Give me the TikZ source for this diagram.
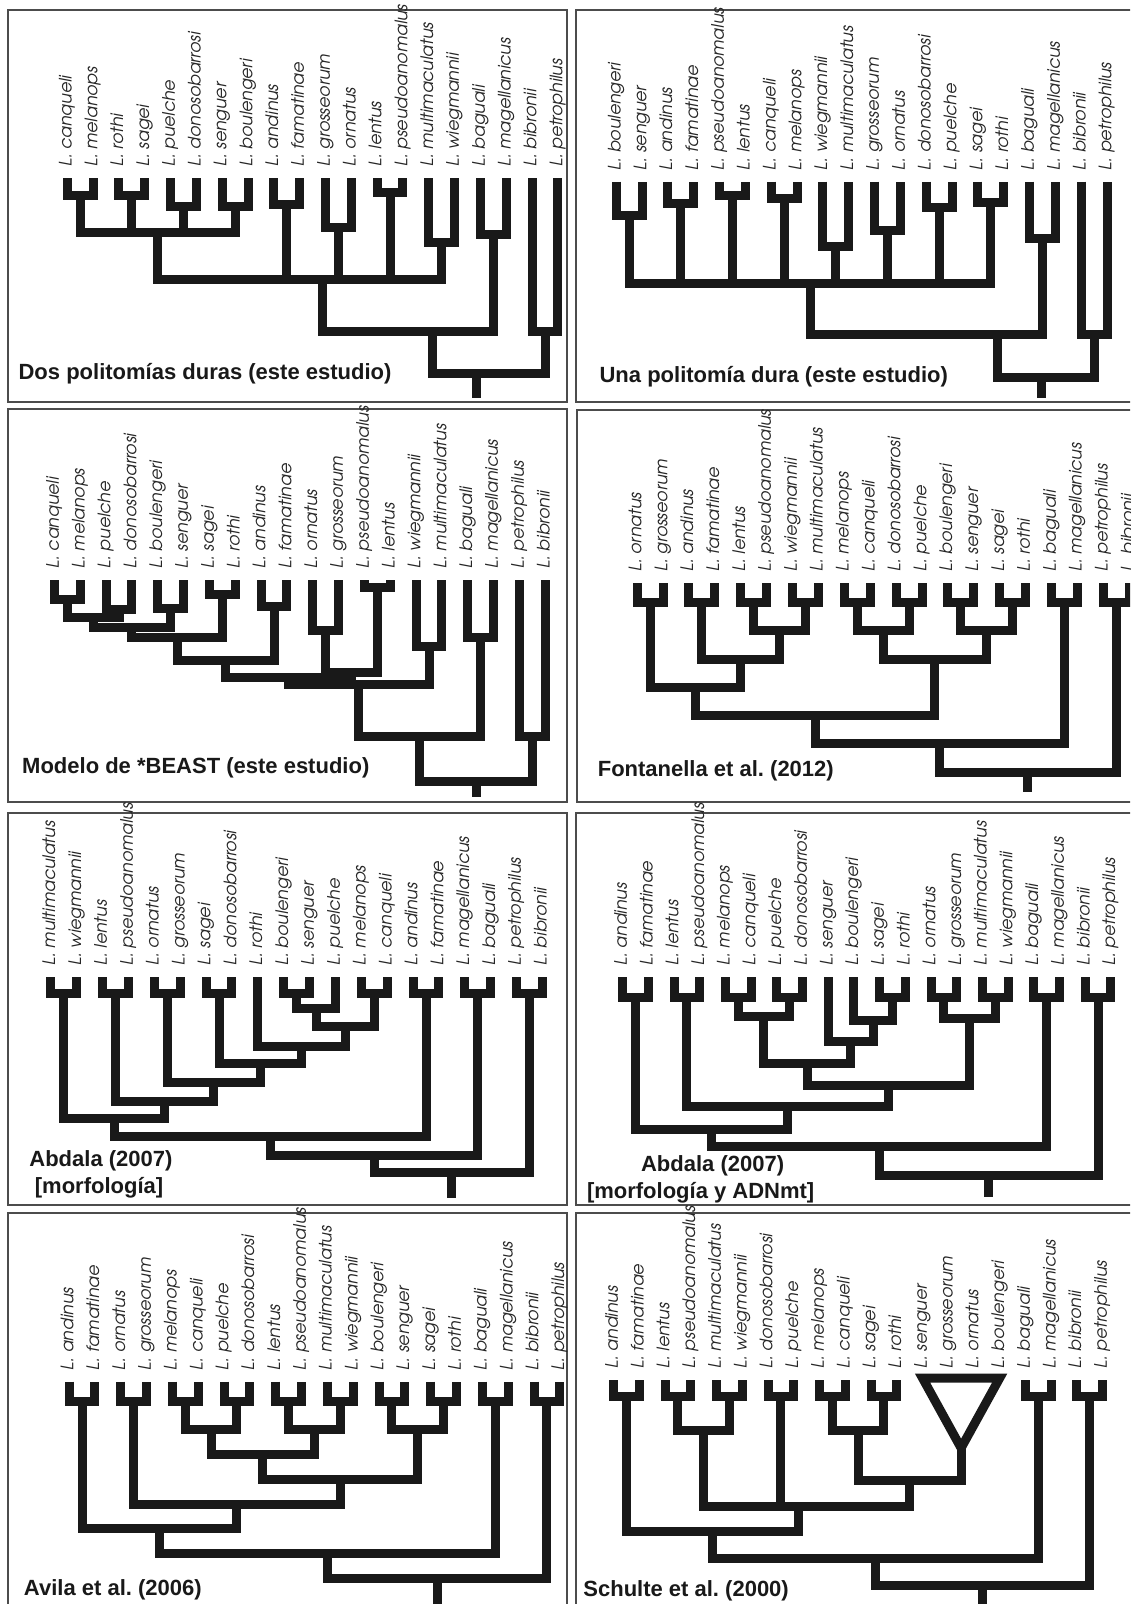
\documentclass[tikz,border=0pt]{standalone}
\usepackage{fontspec}
\newfontfamily\labfont{texgyreadventor-italic.otf}
\newfontfamily\titfont{Liberation Sans}
\frenchspacing
\newcommand\nd[3]{\coordinate (#1) at ({\PX+(#2-1)*\PD},#3);}
\newcommand\br[3]{\draw[branch] (#1) |- (#2) -| (#3);}
\newcommand\midbr[2]{\draw[branch] (#1) -- (#1 |- #2);}
\newcommand\chr[5]{\nd{#1}{(#3+#4)/2}{#5}\br{#2#3}{#1}{#2#4}}
\newcommand\tips[2]{%
  \foreach \nm [count=\i] in {#2} {%
    \coordinate (#1\i) at ({\PX+(\i-1)*\PD},\PT);
    \node[lab] (#1lab\i) at ({\PX+(\i-1)*\PD},{\PT-11}) {L. \nm};
  }}
\begin{document}
\begin{tikzpicture}[x=0.5pt,y=-0.5pt,
  branch/.style={line width=4.5pt,draw=black!90,line cap=butt,line join=miter},
  lab/.style={rotate=90,anchor=mid west,inner sep=0pt,font=\labfont\fontsize{8.6}{10}\selectfont,text=black!85},
  ttl/.style={anchor=base west,inner sep=0pt,font=\titfont\bfseries\fontsize{11}{13}\selectfont,text=black!90},
  panel/.style={draw=black!70,line width=1pt}]
\useasboundingbox (0,0) rectangle (1130,1604);
\fill[white] (0,0) rectangle (1130,1604);
\clip (0,0) rectangle (1130,1604);
% frames
\draw[panel] (8,10) rectangle (567,402);
\draw[panel] (576,10) rectangle (1140,402);
\draw[panel] (8,409.5) rectangle (567,802);
\draw[panel] (577,410) rectangle (1140,802);
\draw[panel] (8,813) rectangle (567,1205);
\draw[panel] (576,813) rectangle (1140,1205);
\draw[panel] (8,1213) rectangle (567,1620);
\draw[panel] (576,1213) rectangle (1140,1620);
% ---------- Panel A ----------
\begin{scope}
\def\PX{67.2}\def\PD{25.83}\def\PT{178.3}
\tips{A}{canqueli,melanops,rothi,sagei,puelche,donosobarrosi,senguer,boulengeri,andinus,famatinae,grosseorum,ornatus,lentus,pseudoanomalus,multimaculatus,wiegmannii,baguali,magellanicus,bibronii,petrophilus}
\chr{Ac1}{A}{1}{2}{196}
\chr{Ac2}{A}{3}{4}{196}
\chr{Ac3}{A}{5}{6}{207}
\chr{Ac4}{A}{7}{8}{207}
\chr{Ac5}{A}{9}{10}{205}
\chr{Ac6}{A}{11}{12}{228}
\chr{Ac7}{A}{13}{14}{193}
\chr{Ac8}{A}{15}{16}{243}
\chr{Ac9}{A}{17}{18}{235}
\chr{Ac10}{A}{19}{20}{332}
\nd{Ap1}{4.5}{233}\br{Ac1}{Ap1}{Ac4}\midbr{Ac2}{Ap1}\midbr{Ac3}{Ap1}
\nd{Ap2}{10.9}{280}\br{Ap1}{Ap2}{Ac8}\midbr{Ac5}{Ap2}\midbr{Ac6}{Ap2}\midbr{Ac7}{Ap2}
\nd{Ap3}{15.15}{332}\br{Ap2}{Ap3}{Ac9}
\nd{Anr}{16.83}{374}\br{Ap3}{Anr}{Ac10}
\nd{Anz}{16.83}{398}\draw[branch] (Anr) -- (Anz);
\node[ttl] (Atitle) at (18.2,380) {Dos politomías duras (este estudio)};
\end{scope}
% ---------- Panel B ----------
\begin{scope}
\def\PX{616.2}\def\PD{25.84}\def\PT{181.7}
\tips{B}{boulengeri,senguer,andinus,famatinae,pseudoanomalus,lentus,canqueli,melanops,wiegmannii,multimaculatus,grosseorum,ornatus,donosobarrosi,puelche,sagei,rothi,baguali,magellanicus,bibronii,petrophilus}
\chr{Bc1}{B}{1}{2}{216}
\chr{Bc2}{B}{3}{4}{204}
\chr{Bc3}{B}{5}{6}{196}
\chr{Bc4}{B}{7}{8}{199}
\chr{Bc5}{B}{9}{10}{247}
\chr{Bc6}{B}{11}{12}{231}
\chr{Bc7}{B}{13}{14}{208}
\chr{Bc8}{B}{15}{16}{203}
\chr{Bc9}{B}{17}{18}{239}
\chr{Bc10}{B}{19}{20}{335}
\nd{Bnp}{8.5}{284}\br{Bc1}{Bnp}{Bc8}
\midbr{Bc2}{Bnp}\midbr{Bc3}{Bnp}\midbr{Bc4}{Bnp}\midbr{Bc5}{Bnp}\midbr{Bc6}{Bnp}\midbr{Bc7}{Bnp}
\nd{Bnn}{15.75}{335}\br{Bnp}{Bnn}{Bc9}
\nd{Bnr}{17.45}{378}\br{Bnn}{Bnr}{Bc10}
\nd{Bnz}{17.45}{398}\draw[branch] (Bnr) -- (Bnz);
\node[ttl] (Btitle) at (599.2,383) {Una politomía dura (este estudio)};
\end{scope}
% ---------- Panel C ----------
\begin{scope}
\def\PX{54.5}\def\PD{25.83}\def\PT{580}
\tips{C}{canqueli,melanops,puelche,donosobarrosi,boulengeri,senguer,sagei,rothi,andinus,famatinae,ornatus,grosseorum,pseudoanomalus,lentus,wiegmannii,multimaculatus,baguali,magellanicus,petrophilus,bibronii}
\chr{Cc1}{C}{1}{2}{599}
\chr{Cc2}{C}{3}{4}{609}
\chr{Cc3}{C}{5}{6}{608}
\chr{Cc4}{C}{7}{8}{594}
\chr{Cc5}{C}{9}{10}{606}
\chr{Cc6}{C}{11}{12}{630}
\chr{Cc7}{C}{13}{14}{587}
\chr{Cc8}{C}{15}{16}{646}
\chr{Cc9}{C}{17}{18}{637}
\chr{Cc10}{C}{19}{20}{736}
\nd{Cna}{2.5}{617}\br{Cc1}{Cna}{Cc2}
\nd{Cnb}{4}{627.5}\br{Cna}{Cnb}{Cc3}
\nd{Cnc}{5.75}{637}\br{Cnb}{Cnc}{Cc4}
\nd{Cnd}{7.625}{660.5}\br{Cnc}{Cnd}{Cc5}
\nd{Cne}{12.5}{672}\br{Cc6}{Cne}{Cc7}
\nd{Cnf}{10.06}{677}\br{Cnd}{Cnf}{Cne}
\nd{Cng}{12.78}{684}\br{Cnf}{Cng}{Cc8}
\nd{Cnh}{15.14}{736}\br{Cng}{Cnh}{Cc9}
\nd{Cnr}{17.32}{781.7}\br{Cnh}{Cnr}{Cc10}
\nd{Cnz}{17.32}{797}\draw[branch] (Cnr) -- (Cnz);
\node[ttl] (Ctitle) at (21.8,773.3) {Modelo de *BEAST (este estudio)};
\end{scope}
% ---------- Panel D ----------
\begin{scope}
\def\PX{637.1}\def\PD{25.9}\def\PT{583.3}
\tips{D}{ornatus,grosseorum,andinus,famatinae,lentus,pseudoanomalus,wiegmannii,multimaculatus,melanops,canqueli,donosobarrosi,puelche,boulengeri,senguer,sagei,rothi,baguali,magellanicus,petrophilus,bibronii}
\chr{Dc1}{D}{1}{2}{602.5}
\chr{Dc2}{D}{3}{4}{602.5}
\chr{Dc3}{D}{5}{6}{602.5}
\chr{Dc4}{D}{7}{8}{602.5}
\chr{Dc5}{D}{9}{10}{602.5}
\chr{Dc6}{D}{11}{12}{602.5}
\chr{Dc7}{D}{13}{14}{602.5}
\chr{Dc8}{D}{15}{16}{602.5}
\chr{Dc9}{D}{17}{18}{602.5}
\chr{Dc10}{D}{19}{20}{602.5}
\nd{Dna}{6.5}{630}\br{Dc3}{Dna}{Dc4}
\nd{Dnb}{5}{659}\br{Dc2}{Dnb}{Dna}
\nd{Dnc}{3.25}{687}\br{Dc1}{Dnc}{Dnb}
\nd{Dnd}{10.5}{630}\br{Dc5}{Dnd}{Dc6}
\nd{Dne}{14.5}{630}\br{Dc7}{Dne}{Dc8}
\nd{Dnf}{12.5}{659}\br{Dnd}{Dnf}{Dne}
\nd{Dng}{7.875}{715}\br{Dnc}{Dng}{Dnf}
\nd{Dnh}{12.69}{743}\br{Dng}{Dnh}{Dc9}
\nd{Dnr}{16.09}{772}\br{Dnh}{Dnr}{Dc10}
\nd{Dnz}{16.09}{792}\draw[branch] (Dnr) -- (Dnz);
\node[ttl] (Dtitle) at (597.4,776.7) {Fontanella et al. (2012)};
\end{scope}
% ---------- Panel E ----------
\begin{scope}
\def\PX{50.9}\def\PD{25.87}\def\PT{977}
\tips{E}{multimaculatus,wiegmannii,lentus,pseudoanomalus,ornatus,grosseorum,sagei,donosobarrosi,rothi,boulengeri,senguer,puelche,melanops,canqueli,andinus,famatinae,magellanicus,baguali,petrophilus,bibronii}
\chr{Ec1}{E}{1}{2}{993}
\chr{Ec2}{E}{3}{4}{993}
\chr{Ec3}{E}{5}{6}{993}
\chr{Ec4}{E}{7}{8}{993}
\chr{Ec5}{E}{10}{11}{993}
\chr{Ec6}{E}{13}{14}{993}
\chr{Ec7}{E}{15}{16}{993}
\chr{Ec8}{E}{17}{18}{993}
\chr{Ec9}{E}{19}{20}{993}
\nd{Ena}{11.25}{1008.3}\br{Ec5}{Ena}{E12}
\nd{Enb}{12.375}{1026.7}\br{Ena}{Enb}{Ec6}
\nd{Enc}{10.6875}{1046}\br{E9}{Enc}{Enb}
\nd{Ennd}{9.094}{1063.3}\br{Ec4}{Ennd}{Enc}
\nd{Ene}{7.297}{1082.7}\br{Ec3}{Ene}{Ennd}
\nd{Enf}{5.398}{1101.7}\br{Ec2}{Enf}{Ene}
\nd{Eng}{3.449}{1118.3}\br{Ec1}{Eng}{Enf}
\nd{Enh}{9.475}{1136}\br{Eng}{Enh}{Ec7}
\nd{Eni}{13.49}{1155}\br{Enh}{Eni}{Ec8}
\nd{Enr}{16.49}{1172.7}\br{Eni}{Enr}{Ec9}
\nd{Enz}{16.49}{1198}\draw[branch] (Enr) -- (Enz);
\node[ttl] (Etitle) at (29,1166.7) {Abdala (2007)};
\node[ttl] (Etitleb) at (34.5,1193.3) {[morfología]};
\end{scope}
% ---------- Panel F ----------
\begin{scope}
\def\PX{622.6}\def\PD{25.7}\def\PT{977}
\tips{F}{andinus,famatinae,lentus,pseudoanomalus,melanops,canqueli,puelche,donosobarrosi,senguer,boulengeri,sagei,rothi,ornatus,grosseorum,multimaculatus,wiegmannii,baguali,magellanicus,bibronii,petrophilus}
\chr{Fc1}{F}{1}{2}{997.7}
\chr{Fc2}{F}{3}{4}{997.7}
\chr{Fc3}{F}{5}{6}{997.7}
\chr{Fc4}{F}{7}{8}{997.7}
\chr{Fc5}{F}{11}{12}{997.7}
\chr{Fc6}{F}{13}{14}{997.7}
\chr{Fc7}{F}{15}{16}{997.7}
\chr{Fc8}{F}{17}{18}{997.7}
\chr{Fc9}{F}{19}{20}{997.7}
\nd{Fna}{10.75}{1020}\br{F10}{Fna}{Fc5}
\nd{Fnb}{9.875}{1041.7}\br{F9}{Fnb}{Fna}
\nd{Fnc}{6.5}{1016.7}\br{Fc3}{Fnc}{Fc4}
\nd{Fnd}{8.1875}{1063.3}\br{Fnc}{Fnd}{Fnb}
\nd{Fne}{14.5}{1018.3}\br{Fc6}{Fne}{Fc7}
\nd{Fnf}{11.34}{1085}\br{Fnd}{Fnf}{Fne}
\nd{Fng}{7.42}{1106.7}\br{Fc2}{Fng}{Fnf}
\nd{Fnh}{4.46}{1129.3}\br{Fc1}{Fnh}{Fng}
\nd{Fni}{10.98}{1146.7}\br{Fnh}{Fni}{Fc8}
\nd{Fnr}{15.24}{1175}\br{Fni}{Fnr}{Fc9}
\nd{Fnz}{15.24}{1197}\draw[branch] (Fnr) -- (Fnz);
\node[ttl] (Ftitle) at (640.7,1171.7) {Abdala (2007)};
\node[ttl] (Ftitleb) at (586.6,1198.3) {[morfología y ADNmt]};
\end{scope}
% ---------- Panel G ----------
\begin{scope}
\def\PX{69.1}\def\PD{25.83}\def\PT{1381.7}
\tips{G}{andinus,famatinae,ornatus,grosseorum,melanops,canqueli,puelche,donosobarrosi,lentus,pseudoanomalus,multimaculatus,wiegmannii,boulengeri,senguer,sagei,rothi,baguali,magellanicus,bibronii,petrophilus}
\chr{Gc1}{G}{1}{2}{1401.7}
\chr{Gc2}{G}{3}{4}{1401.7}
\chr{Gc3}{G}{5}{6}{1401.7}
\chr{Gc4}{G}{7}{8}{1401.7}
\chr{Gc5}{G}{9}{10}{1401.7}
\chr{Gc6}{G}{11}{12}{1401.7}
\chr{Gc7}{G}{13}{14}{1401.7}
\chr{Gc8}{G}{15}{16}{1401.7}
\chr{Gc9}{G}{17}{18}{1401.7}
\chr{Gc10}{G}{19}{20}{1401.7}
\nd{Gna}{6.5}{1429.5}\br{Gc3}{Gna}{Gc4}
\nd{Gnb}{10.5}{1429.5}\br{Gc5}{Gnb}{Gc6}
\nd{Gnc}{8.5}{1454.5}\br{Gna}{Gnc}{Gnb}
\nd{Gnd}{14.5}{1429.5}\br{Gc7}{Gnd}{Gc8}
\nd{Gne}{11.5}{1479.3}\br{Gnc}{Gne}{Gnd}
\nd{Gnf}{7.5}{1504}\br{Gc2}{Gnf}{Gne}
\nd{Gng}{4.5}{1528.3}\br{Gc1}{Gng}{Gnf}
\nd{Gnh}{11}{1553.3}\br{Gng}{Gnh}{Gc9}
\nd{Gnr}{15.25}{1578.3}\br{Gnh}{Gnr}{Gc10}
\nd{Gnz}{15.25}{1615}\draw[branch] (Gnr) -- (Gnz);
\node[ttl] (Gtitle) at (23.6,1595) {Avila et al. (2006)};
\end{scope}
% ---------- Panel H ----------
\begin{scope}
\def\PX{613.6}\def\PD{25.74}\def\PT{1380}
\tips{H}{andinus,famatinae,lentus,pseudoanomalus,multimaculatus,wiegmannii,donosobarrosi,puelche,melanops,canqueli,sagei,rothi,senguer,grosseorum,ornatus,boulengeri,baguali,magellanicus,bibronii,petrophilus}
\chr{Hc1}{H}{1}{2}{1396.7}
\chr{Hc2}{H}{3}{4}{1396.7}
\chr{Hc3}{H}{5}{6}{1396.7}
\chr{Hc4}{H}{7}{8}{1396.7}
\chr{Hc5}{H}{9}{10}{1396.7}
\chr{Hc6}{H}{11}{12}{1396.7}
\chr{Hc7}{H}{17}{18}{1396.7}
\chr{Hc8}{H}{19}{20}{1396.7}
\nd{Htl}{13}{1378}\nd{Htr}{16}{1378}\nd{HT}{14.5}{1448}
\draw[branch] (Htl) -- (Htr) -- (HT) -- cycle;
\nd{Hna}{4.5}{1430}\br{Hc2}{Hna}{Hc3}
\nd{Hnb}{10.5}{1430}\br{Hc5}{Hnb}{Hc6}
\nd{Hnc}{12.5}{1480}\br{Hnb}{Hnc}{HT}
\nd{Hnd}{8.167}{1506}\br{Hna}{Hnd}{Hnc}\midbr{Hc4}{Hnd}
\nd{Hne}{4.83}{1531.7}\br{Hc1}{Hne}{Hnd}
\nd{Hnf}{11.17}{1558.3}\br{Hne}{Hnf}{Hc7}
\nd{Hnr}{15.33}{1585}\br{Hnf}{Hnr}{Hc8}
\nd{Hnz}{15.33}{1615}\draw[branch] (Hnr) -- (Hnz);
\node[ttl] (Htitle) at (583,1596.7) {Schulte et al. (2000)};
\end{scope}
\end{tikzpicture}
\end{document}
